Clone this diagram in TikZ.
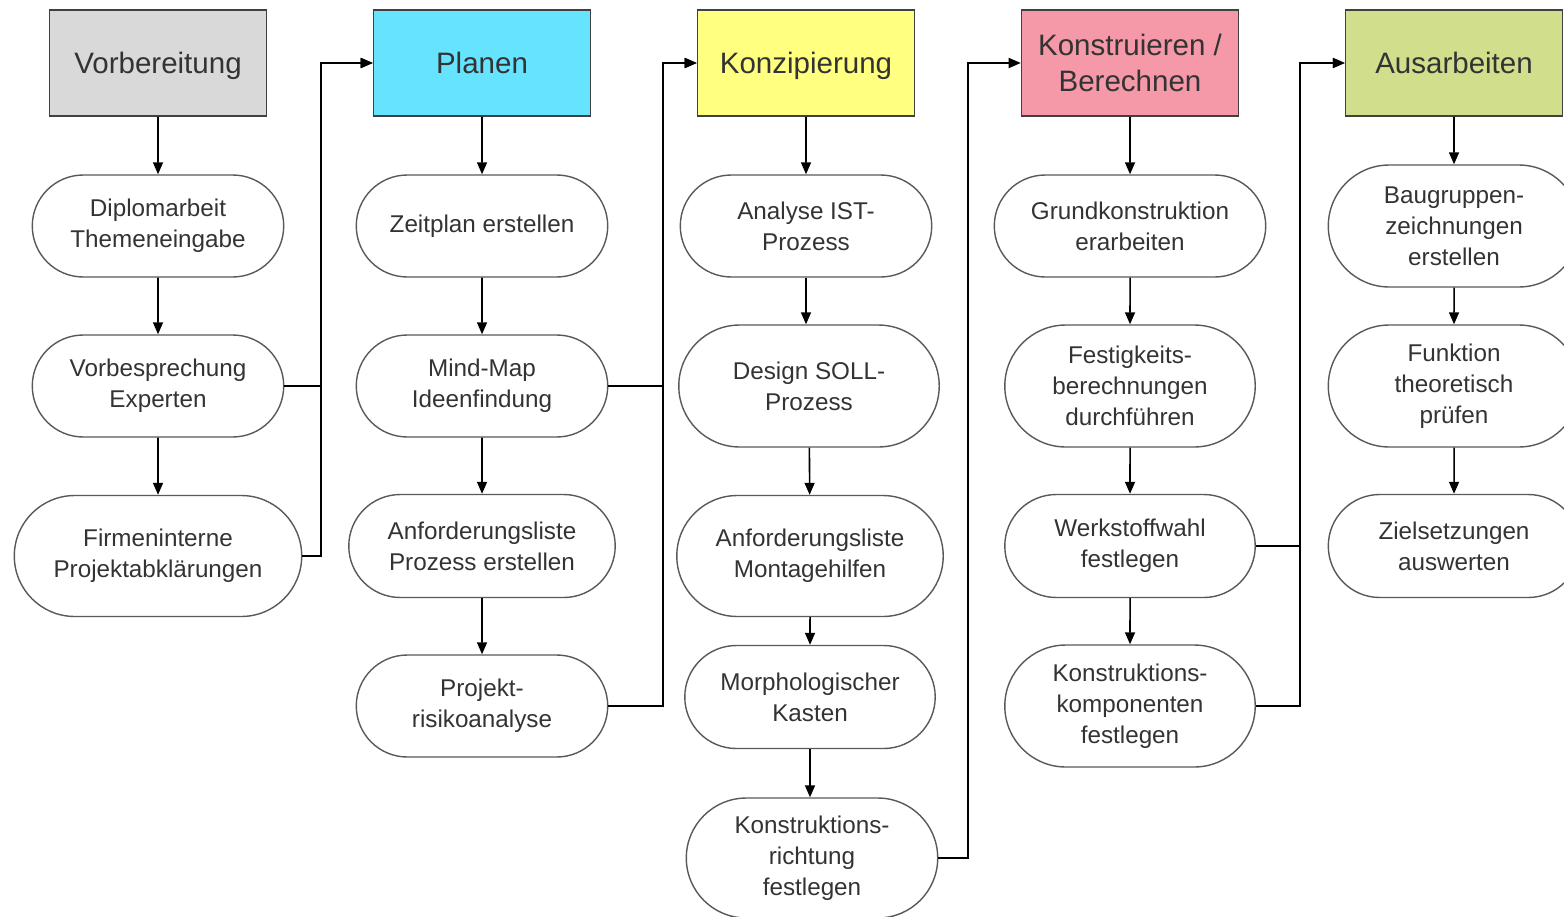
\documentclass[tikz,border=0pt]{standalone}
\usepackage{fontspec}
\setmainfont{Liberation Sans}
\usetikzlibrary{shapes.misc,arrows.meta}
\definecolor{hdgray}{HTML}{D9D9D9}
\definecolor{hdcyan}{HTML}{66E3FF}
\definecolor{hdyellow}{HTML}{FFFF80}
\definecolor{hdpink}{HTML}{F598A8}
\definecolor{hdgreen}{HTML}{D1DE8C}
\definecolor{txtgray}{HTML}{333333}
\tikzset{
  head/.style={draw=black!75, line width=0.9pt, minimum width=4.34cm, minimum height=2.12cm, text=txtgray, align=center, font=\fontsize{16.8}{20.5}\selectfont},
  head1/.style={head, text height=12pt, text depth=0pt},
  task/.style={draw=black!65, line width=0.8pt, rounded rectangle, minimum width=5.1cm, minimum height=2.04cm, text=txtgray, align=center, font=\fontsize{13.8}{17.6}\selectfont, inner sep=1pt},
  flow/.style={line width=0.9pt, -{Triangle[length=0.24cm,width=0.2cm]}},
  link/.style={line width=0.9pt}
}
\begin{document}
\begin{tikzpicture}[x=0.02cm,y=-0.02cm]
\useasboundingbox (0,0) rectangle (1564,916);
\node[head1,fill=hdgray] (vor) at (158,63) {Vorbereitung};
\node[head1,fill=hdcyan] (pla) at (482,63) {Planen};
\node[head1,fill=hdyellow] (kon) at (806,63) {Konzipierung};
\node[head,fill=hdpink] (kbe) at (1130,63) {Konstruieren /\\Berechnen};
\node[head1,fill=hdgreen] (aus) at (1454,63) {Ausarbeiten};
\node[task] (vor1) at (158,226) {Diplomarbeit\\Themeneingabe};
\node[task] (vor2) at (158,386) {Vorbesprechung\\Experten};
\node[task,minimum width=5.82cm,minimum height=2.42cm] (vor3) at (158,556) {Firmeninterne\\Projektabkl\"arungen};
\node[task] (pla1) at (482,226) {Zeitplan erstellen};
\node[task] (pla2) at (482,386) {Mind-Map\\Ideenfindung};
\node[task,minimum width=5.4cm,minimum height=2.06cm] (pla3) at (482,546) {Anforderungsliste\\Prozess erstellen};
\node[task] (pla4) at (482,706) {Projekt-\\risikoanalyse};
\node[task] (kon1) at (806,226) {Analyse IST-\\Prozess};
\node[task,minimum width=5.28cm,minimum height=2.44cm] (kon2) at (809,386) {Design SOLL-\\Prozess};
\node[task,minimum width=5.4cm,minimum height=2.42cm] (kon3) at (810,556) {Anforderungsliste\\Montagehilfen};
\node[task,minimum width=5.08cm,minimum height=2.06cm] (kon4) at (810,697) {Morphologischer\\Kasten};
\node[task,minimum width=5.1cm,minimum height=2.4cm] (kon5) at (812,858) {Konstruktions-\\richtung\\festlegen};
\node[task,minimum width=5.5cm] (kbe1) at (1130,226) {Grundkonstruktion\\erarbeiten};
\node[task,minimum width=5.08cm,minimum height=2.44cm] (kbe2) at (1130,386) {Festigkeits-\\berechnungen\\durchf\"uhren};
\node[task,minimum width=5.08cm,minimum height=2.06cm] (kbe3) at (1130,546) {Werkstoffwahl\\festlegen};
\node[task,minimum width=5.08cm,minimum height=2.44cm] (kbe4) at (1130,706) {Konstruktions-\\komponenten\\festlegen};
\node[task,minimum height=2.44cm] (aus1) at (1454,226) {Baugruppen-\\zeichnungen\\erstellen};
\node[task,minimum height=2.44cm] (aus2) at (1454,386) {Funktion\\theoretisch\\pr\"ufen};
\node[task,minimum height=2.06cm] (aus3) at (1454,546) {Zielsetzungen\\auswerten};
\draw[flow] (vor) -- (vor1);
\draw[flow] (vor1) -- (vor2);
\draw[flow] (vor2) -- (vor3);
\draw[flow] (pla) -- (pla1);
\draw[flow] (pla1) -- (pla2);
\draw[flow] (pla2) -- (pla3);
\draw[flow] (pla3) -- (pla4);
\draw[flow] (kon) -- (kon1);
\draw[flow] (kon1.south) -- (kon1.south |- kon2.north);
\draw[flow] (kon2) -- (kon3);
\draw[flow] (kon3) -- (kon4);
\draw[flow] (kon4.south) -- (kon4.south |- kon5.north);
\draw[flow] (kbe) -- (kbe1);
\draw[flow] (kbe1) -- (kbe2);
\draw[flow] (kbe2) -- (kbe3);
\draw[flow] (kbe3) -- (kbe4);
\draw[flow] (aus) -- (aus1);
\draw[flow] (aus1) -- (aus2);
\draw[flow] (aus2) -- (aus3);
\draw[flow] (vor2.east) -- (321,386) |- (pla.west);
\draw[flow] (vor3.east) -- (321,556) |- (pla.west);
\draw[flow] (pla2.east) -- (663,386) |- (kon.west);
\draw[flow] (pla4.east) -- (663,706) |- (kon.west);
\draw[flow] (kon5.east) -- (968,858) |- (kbe.west);
\draw[flow] (kbe3.east) -- (1300,546) |- (aus.west);
\draw[flow] (kbe4.east) -- (1300,706) |- (aus.west);
\end{tikzpicture}
\end{document}
